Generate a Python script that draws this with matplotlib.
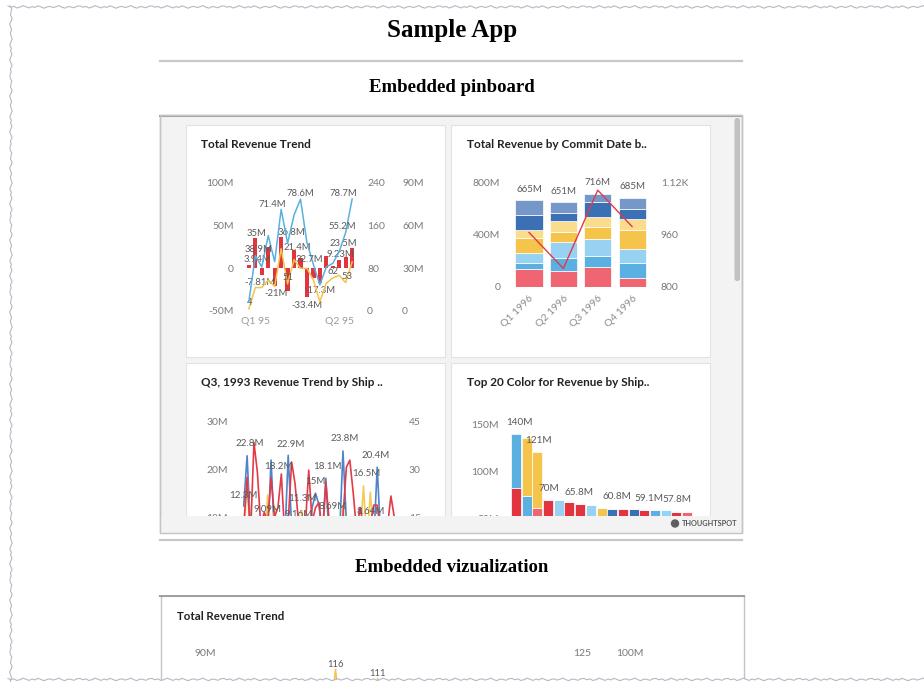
import numpy as np
import matplotlib
matplotlib.use('Agg')
import matplotlib.pyplot as plt
from matplotlib.patches import Rectangle, Circle, FancyBboxPatch

plt.rcParams['font.family'] = ['Lato', 'DejaVu Sans']
SERIF = ['Liberation Serif', 'DejaVu Serif']

W, H = 924, 682

# ---- card 1: Total Revenue Trend (M, count, M) ----
trend_change = [3.94, 35, -7.81, 25, -21, 36.8, -27, 21.4, 12.4, -33.4, -10.8, -17.3, 14, 3.2, 9.23, 13.2, 23.5]
trend_revenue = [6.6, 38.9, 31, 53, 34.7, 71.4, 47.6, 67.5, 78.6, 48, 32.7, 18.3, 31, 33.5, 41.7, 55.2, 78.7]
trend_count = [4, 44, 44, 58, 46, 117, 51, 96, 80, 80, 58, 17.5, 52, 62, 67, 53, 92]
trend_tick_pos = [1, 14]
trend_tick_labels = ['Q1 95', 'Q2 95']

# ---- card 2: Total Revenue by Commit Date (stack bottom -> top, M) ----
commit_quarters = ['Q1 1996', 'Q2 1996', 'Q3 1996', 'Q4 1996']
seg_red = [133, 123, 149, 69]
seg_blue = [51, 100, 87, 110]
seg_lightblue = [77, 123, 131, 113]
seg_yellow = [110, 72, 92, 141]
seg_lightyellow = [64, 90, 79, 87]
seg_darkblue = [115, 56, 110, 79]
seg_steel = [115, 87, 68, 86]
commit_count = [967, 856, 1097, 985]

# ---- card 3: Q3 1993 Revenue Trend by Ship (M) ----
ship_blue = [12.3, 22.8, 7, 5, 4, 6, 3, 5, 21.9, 6, 4, 7, 5, 22.9, 8, 5, 6, 8, 4, 5, 12, 15,
             12.5, 6, 18.1, 5, 7, 5, 6, 23.8, 9, 6, 5, 4, 6, 5, 4, 6, 5, 20.4, 6, 4, 5, 6, 4]
ship_yellow = [5, 18, 4, 6, 3, 5, 4, 14.6, 5, 12, 4, 6, 3, 5, 7, 4, 5, 11.3, 4, 6, 3, 5,
               4, 6, 5, 3, 7, 10, 4, 12, 5, 4, 6, 3, 5, 16.5, 4, 15.2, 5, 3, 6, 4, 5, 3, 4]
ship_red = [8, 18.3, 6, 25.6, 19.4, 8, 11, 9.09, 18.2, 10, 12, 19, 6, 9, 21.5, 17, 9.16, 7, 8,
            19.8, 9, 12, 13, 6, 17.3, 9, 8.69, 8, 6, 10, 20.4, 21.9, 15, 7, 12, 8, 6, 8.64,
            12.5, 12.5, 7, 5, 8, 14.4, 10]

# ---- card 4: Top 20 Color for Revenue by Ship (M) ----
top_lower = [83, 74.6, 62, 70, 70, 68, 65.8, 64.5, 62, 60.8, 60.8, 60, 59.1, 59.1, 59.1, 57.8, 57.8]
top_upper = [57, 61, 59, 0, 0, 0, 0, 0, 0, 0, 0, 0, 0, 0, 0, 0, 0]

# ---- embedded viz (only the top is visible) ----
viz_count = [70, 64, 82, 75, 68, 90, 72, 60, 85, 78, 66, 80, 74, 116, 70, 62, 88, 76, 111, 69,
             73, 81, 65, 77, 86, 71, 63, 84, 79, 67, 90, 72, 61, 83, 75, 68, 80, 74, 66, 78, 70]

RED = '#e2343f'
SALMON = '#ef6571'
BLUE = '#5ab0e0'
LBLUE = '#97d2f3'
YELLOW = '#f4c44b'
LYELLOW = '#fbdc8c'
DBLUE = '#3b70b4'
STEEL = '#7598c9'
TICK = '#7a7a7a'
LBL = '#5a5a5a'


def box(x0, y0, x1, y1):
    return [x0 / W, 1 - y1 / H, (x1 - x0) / W, (y1 - y0) / H]


def clean(ax, pad=8):
    for s in ax.spines.values():
        s.set_visible(False)
    ax.patch.set_visible(False)
    ax.tick_params(length=0, labelsize=7.5, labelcolor=TICK, pad=pad)


def mark(ax, x, y, text, dx, dy, size=6.8):
    ax.annotate(text, (x, y), xytext=(dx, dy), textcoords='offset pixels',
                ha='center', va='center', fontsize=size, color=LBL, annotation_clip=False)


def fmt_m(v):
    return f'{v:.3g}M'


fig = plt.figure(figsize=(W / 100, H / 100), dpi=100)

# page layer
page = fig.add_axes([0, 0, 1, 1])
page.set_xlim(0, W)
page.set_ylim(H, 0)
page.axis('off')

page.text(452, 30, 'Sample App', family=SERIF, weight='bold', fontsize=18, ha='center', va='center')
page.plot([160, 742], [61, 61], color='#c8c8c8', lw=1.6)
page.text(452, 88, 'Embedded pinboard', family=SERIF, weight='bold', fontsize=13.5, ha='center', va='center')

page.add_patch(Rectangle((160, 115), 582, 418, fc='#f3f3f3', ec='#c4c4c4', lw=1))
page.plot([160, 742], [115.5, 115.5], color='#a0a0a0', lw=1.5)
for cx, cy, ch in [(186, 125, 232), (451, 125, 232), (186, 363, 170), (451, 363, 170)]:
    page.add_patch(Rectangle((cx, cy), 259, ch, fc='white', ec='#e2e2e2', lw=0.8))
page.add_patch(FancyBboxPatch((734.5, 118), 5.5, 163, boxstyle='round,pad=0,rounding_size=2.5',
                              fc='#c1c1c1', ec='none'))

titles = [(201, 145, 'Total Revenue Trend'), (467, 145, 'Total Revenue by Commit Date b..'),
          (201, 383, 'Q3, 1993 Revenue Trend by Ship ..'), (467, 383, 'Top 20 Color for Revenue by Ship..')]
for tx, ty, tt in titles:
    page.text(tx, ty, tt, fontsize=8.5, weight='bold', color='#222222', ha='left', va='center')

page.add_patch(Rectangle((160.5, 595), 583, 120, fc='white', ec='#c4c4c4', lw=1))
page.plot([160, 744], [595.5, 595.5], color='#a0a0a0', lw=1.5)
page.text(177, 616, 'Total Revenue Trend', fontsize=8.3, weight='bold', color='#222222', ha='left', va='center')

# ---- card 1 ----
a1 = fig.add_axes(box(245, 183, 356, 311))
x1 = np.arange(len(trend_change))
a1.bar(x1, trend_change, width=0.66, color=RED, zorder=2)
a1.set_xlim(-0.6, len(trend_change) - 0.4)
a1.set_ylim(-50, 100)
a1.set_yticks([-50, 0, 50, 100], ['-50M', '0', '50M', '100M'])
a1.set_xticks(trend_tick_pos, trend_tick_labels)
clean(a1)
a1.tick_params(axis='x', pad=4.5, labelcolor='#9a9a9a')

a1c = a1.twinx()
a1c.plot(x1, trend_count, color=YELLOW, lw=1.1)
a1c.set_ylim(0, 240)
a1c.set_yticks([0, 80, 160, 240])
clean(a1c)

a1r = a1.twinx()
a1r.spines['right'].set_position(('outward', 25.2))
a1r.plot(x1, trend_revenue, color=BLUE, lw=1.1)
a1r.set_ylim(0, 90)
a1r.set_yticks([0, 30, 60, 90], ['0', '30M', '60M', '90M'])
clean(a1r)

for i, dx, dy in [(0, 9, 5), (1, 1, 5), (2, -2, -8), (4, 1, -7), (5, 10, 4), (7, 3, 3),
                  (9, 0, -9), (11, 0, -7), (14, 1, 6), (16, -9, 5)]:
    mark(a1, i, trend_change[i], fmt_m(trend_change[i]), dx, dy)
for i, dx, dy in [(1, 3, 6), (5, -9, 5), (8, 0, 6), (10, -4, 5), (15, -3, 6), (16, -9, 6)]:
    mark(a1r, i, trend_revenue[i], fmt_m(trend_revenue[i]), dx, dy)
for i, dx, dy in [(0, 1, 6), (6, 0, 6), (13, 0, 6), (15, 1, 6)]:
    mark(a1c, i, trend_count[i], f'{trend_count[i]:.0f}', dx, dy)

# ---- card 2 ----
a2 = fig.add_axes(box(510.1, 182.7, 651, 286.7))
x2 = np.arange(len(commit_quarters))
segments = [seg_red, seg_blue, seg_lightblue, seg_yellow, seg_lightyellow, seg_darkblue, seg_steel]
seg_colors = [SALMON, BLUE, LBLUE, YELLOW, LYELLOW, DBLUE, STEEL]
bottom = np.zeros(len(commit_quarters))
for vals, col in zip(segments, seg_colors):
    a2.bar(x2, vals, bottom=bottom, width=0.79, color=col, edgecolor='white', lw=0.5)
    bottom += np.array(vals)
for i, tot in enumerate(bottom):
    mark(a2, i, tot, f'{tot:.0f}M', 0, 11, size=7)
a2.set_xlim(-0.55, 3.55)
a2.set_ylim(0, 800)
a2.set_yticks([0, 400, 800], ['0', '400M', '800M'])
a2.set_xticks(x2, commit_quarters, rotation=45, ha='right', rotation_mode='anchor')
clean(a2, pad=7)
a2.tick_params(axis='x', pad=5, labelcolor='#8c8c8c')
a2r = a2.twinx()
a2r.plot(x2, commit_count, color='#e0394a', lw=1)
a2r.set_ylim(800, 1120)
a2r.set_yticks([800, 960, 1120], ['800', '960', '1.12K'])
clean(a2r, pad=7)

# ---- card 3 ----
a3 = fig.add_axes(box(243, 421.3, 395, 565))
x3 = np.arange(len(ship_red))
a3.plot(x3, ship_blue, color='#4f84c8', lw=1.2)
a3.plot(x3, ship_yellow, color='#f5c85a', lw=1.2)
a3.plot(x3, ship_red, color='#e23a48', lw=1.2)
a3.set_xlim(-0.2, len(ship_red) - 0.8)
a3.set_ylim(0, 30)
a3.set_yticks([10, 20, 30], ['10M', '20M', '30M'])
a3.set_xticks([])
clean(a3, pad=11)
a3r = a3.twinx()
a3r.set_ylim(0, 45)
a3r.set_yticks([15, 30, 45])
clean(a3r, pad=10)
for series, marks in [(ship_blue, [(0, 0, 11), (1, 3, 12), (13, 2, 11), (21, 0, 12), (24, 2, 12),
                                   (29, 2, 12), (39, -2, 12)]),
                      (ship_yellow, [(17, 0, 12), (35, 3, 12)]),
                      (ship_red, [(7, 0, 12), (8, 7, 11), (16, 0, 7), (26, 0, 17), (37, 0, 12)])]:
    for i, dx, dy in marks:
        mark(a3, i, series[i], fmt_m(series[i]), dx, dy, size=7)

# ---- card 4 ----
a4 = fig.add_axes(box(510.6, 424.7, 692.5, 566))
x4 = np.arange(len(top_lower))
lower_colors = [RED, BLUE, SALMON, RED, LBLUE, RED, RED, LBLUE, YELLOW, DBLUE,
                RED, DBLUE, RED, BLUE, LBLUE, RED, SALMON]
upper_colors = [BLUE, YELLOW, YELLOW] + [RED] * (len(top_lower) - 3)
a4.bar(x4, top_lower, width=0.94, color=lower_colors, edgecolor='white', lw=0.5)
a4.bar(x4, top_upper, bottom=top_lower, width=0.94, color=upper_colors, edgecolor='white', lw=0.5)
top_total = np.array(top_lower) + np.array(top_upper)
for i, dx in [(0, 4), (2, 1), (3, 1), (6, -1), (9, 5), (12, 5), (15, 0)]:
    mark(a4, i, top_total[i], fmt_m(top_total[i]), dx, 12, size=7.2)
a4.set_xlim(-0.5, len(top_lower) - 0.5)
a4.set_ylim(0, 150)
a4.set_yticks([50, 100, 150], ['50M', '100M', '150M'])
a4.set_xticks([])
clean(a4, pad=8.3)

# ---- embedded viz: only the top strip shows ----
a5 = fig.add_axes(box(226, 653, 563, 880))
x5 = np.arange(len(viz_count))
a5.set_xlim(0, len(viz_count) - 1)
a5.set_ylim(0, 90)
a5.set_yticks([90], ['90M'])
a5.set_xticks([])
clean(a5, pad=7)
a5c = a5.twinx()
a5c.plot(x5, viz_count, color=YELLOW, lw=1.1)
a5c.set_ylim(0, 125)
a5c.set_yticks([125])
clean(a5c, pad=7)
a5r = a5.twinx()
a5r.spines['right'].set_position(('outward', 31))
a5r.set_ylim(0, 100)
a5r.set_yticks([100], ['100M'])
clean(a5r, pad=7)
for i in [13, 18]:
    mark(a5c, i, viz_count[i], f'{viz_count[i]:.0f}', 0, 5, size=6.8)

# ---- top layer: pinboard footer, gap between frames, torn paper edges ----
top = fig.add_axes([0, 0, 1, 1])
top.set_zorder(10)
top.set_xlim(0, W)
top.set_ylim(H, 0)
top.axis('off')
top.add_patch(Rectangle((161, 516), 580, 16.5, fc='#f3f3f3', ec='none'))
top.add_patch(Rectangle((120, 533.6), 680, 61, fc='white', ec='none'))
top.add_patch(Rectangle((160, 115), 582, 418, fc='none', ec='#c4c4c4', lw=1))
top.add_patch(Circle((675, 523.5), 4.2, fc='#5f5f5f', ec='none'))
top.text(682, 523.5, 'THOUGHTSPOT', fontsize=5.3, weight='bold', color='#555555', ha='left', va='center')
top.plot([160, 742], [540, 540], color='#c8c8c8', lw=1.6)
top.text(452, 567, 'Embedded vizualization', family=SERIF, weight='bold', fontsize=13.5, ha='center', va='center')

jag = np.array([0.0, 1.2, 0.4, 2.0, 1.1, -0.3, 0.8, 1.9, 0.6, 1.4, -0.2, 0.9,
                2.2, 1.0, 0.3, 1.6, 0.7, -0.4, 1.3, 2.1, 0.5, 1.0, 1.8, 0.2])
ex = np.arange(8, W + 3, 3)
ey = np.arange(6, H + 3, 3)
top.plot(ex, 6 + np.resize(jag, len(ex)), color='#b4b9c6', lw=0.8)
top.plot(10 + np.resize(jag[::-1], len(ey)), ey, color='#b4b9c6', lw=0.8)
bottom_edge = 678.5 + np.resize(jag, len(ex))
top.fill_between(ex, bottom_edge, H + 2, color='white', lw=0)
top.plot(ex, bottom_edge, color='#b4b9c6', lw=0.8)

fig.savefig('out.png', dpi=100)
